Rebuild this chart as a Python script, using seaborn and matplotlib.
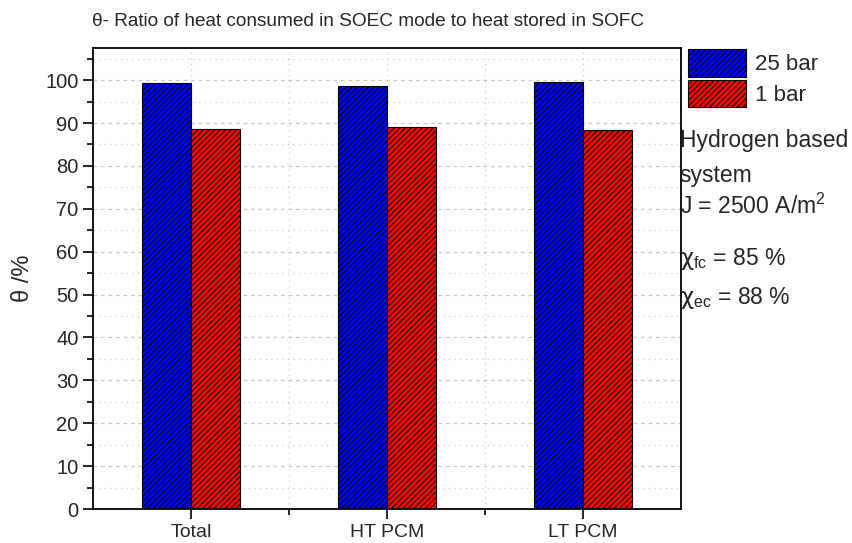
import matplotlib
matplotlib.use("Agg")
import matplotlib.pyplot as plt
import seaborn as sns
import pandas as pd
from matplotlib.patches import Patch
from matplotlib.ticker import MultipleLocator, FixedLocator

categories = ["Total", "HT PCM", "LT PCM"]
series_names = ["25 bar", "1 bar"]
values_25bar = [99.4, 98.7, 99.5]
values_1bar = [88.5, 89.0, 88.3]
colors = ["#0000ff", "#ff0000"]

df = pd.DataFrame({
    "cat": categories * 2,
    "series": [series_names[0]] * 3 + [series_names[1]] * 3,
    "val": values_25bar + values_1bar,
})

sns.set_style("white")
plt.rcParams["font.family"] = ["Liberation Sans", "DejaVu Sans"]
plt.rcParams["mathtext.fontset"] = "custom"
plt.rcParams["mathtext.rm"] = "Liberation Sans"
plt.rcParams["mathtext.it"] = "DejaVu Sans"
plt.rcParams["hatch.linewidth"] = 0.7
plt.rcParams["hatch.color"] = "black"

fig = plt.figure(figsize=(8.53, 5.43), dpi=100)
ax = fig.add_axes([0.109, 0.0626, 0.689, 0.849])

sns.barplot(data=df, x="cat", y="val", hue="series", palette=colors,
            width=0.5, edgecolor="black", linewidth=0.8, ax=ax,
            legend=False, saturation=1, errorbar=None)
for p in ax.patches:
    p.set_hatch("//////")

ax.set_xlim(-0.5, 2.5)
ax.yaxis.set_major_locator(MultipleLocator(10))
ax.yaxis.set_minor_locator(MultipleLocator(5))
ax.xaxis.set_minor_locator(FixedLocator([0.5, 1.5]))
ax.set_ylim(0, 107.5)

ax.grid(True, which="major", axis="y", color="#c8c8c8", linestyle=(0, (3, 3)), linewidth=0.9)
ax.grid(True, which="minor", axis="y", color="#c8c8c8", linestyle=(0, (1, 4)), linewidth=0.8)
ax.grid(True, which="both", axis="x", color="#c8c8c8", linestyle=(0, (1, 4)), linewidth=0.8)
ax.set_axisbelow(True)

for s in ax.spines.values():
    s.set_color("black")
    s.set_linewidth(1.3)

ax.tick_params(axis="both", which="major", direction="out", length=7, width=1.2,
               color="black", left=True, bottom=True)
ax.tick_params(axis="y", which="major", labelsize=14.5)
ax.tick_params(axis="x", which="major", labelsize=14)
ax.tick_params(axis="both", which="minor", direction="out", length=4, width=1.2,
               color="black", left=True, bottom=True)

ax.set_xlabel("")
ax.set_ylabel("θ /%", fontsize=17, labelpad=8)

fig.text(0.431, 0.96, "θ- Ratio of heat consumed in SOEC mode to heat stored in SOFC",
         ha="center", va="center", fontsize=13.7)

handles = [Patch(facecolor=c, edgecolor="black", hatch="//////", linewidth=0.8) for c in colors]
fig.legend(handles, series_names, loc="upper left", bbox_to_anchor=(0.803, 0.915),
           frameon=False, fontsize=16, handlelength=2.6, handleheight=1.5,
           handletextpad=0.4, labelspacing=0.15, borderpad=0.15, borderaxespad=0.0)

x0 = 0.797
fig.text(x0, 0.742, "Hydrogen based", fontsize=16.5, va="center", ha="left")
fig.text(x0, 0.676, "system", fontsize=16.5, va="center", ha="left")
fig.text(x0, 0.620, r"J = 2500 A/m$^2$", fontsize=16.5, va="center", ha="left")
fig.text(x0, 0.523, r"$\chi$$_{\rm fc}$ = 85 %", fontsize=16.5, va="center", ha="left")
fig.text(x0, 0.451, r"$\chi$$_{\rm ec}$ = 88 %", fontsize=16.5, va="center", ha="left")

fig.savefig("out.png", dpi=100)
